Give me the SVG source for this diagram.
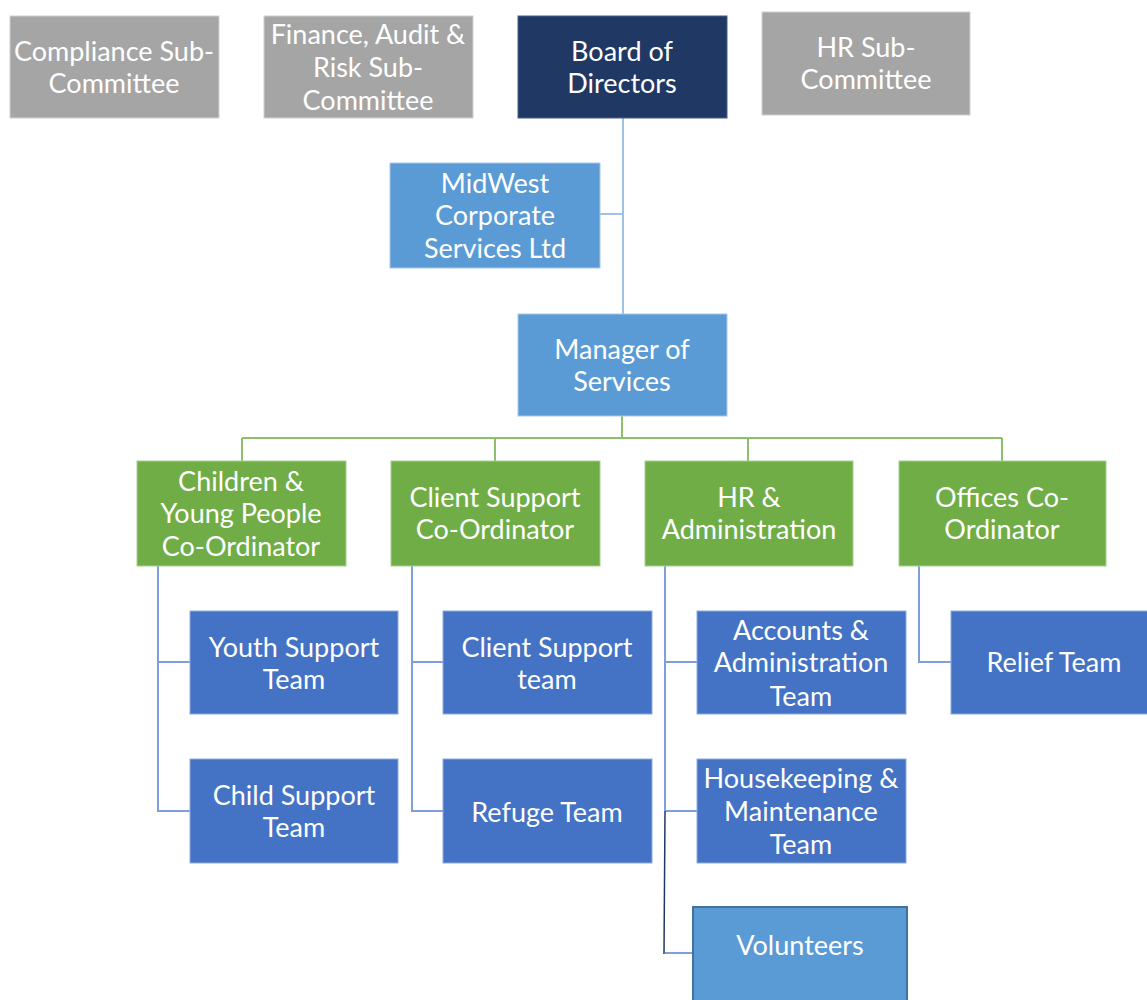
<svg xmlns="http://www.w3.org/2000/svg" width="1147" height="1000" viewBox="0 0 1147 1000">
<style>
  text { font-family: Lato, "Open Sans", "Liberation Sans", sans-serif; font-size: 27px; fill: #ffffff; text-anchor: middle; dominant-baseline: central; }
  .gray { fill: #A5A5A5; stroke: #d0d0d0; stroke-width: 1; }
  .navy { fill: #203864; stroke: #4a5f85; stroke-width: 1; }
  .lblue { fill: #5B9BD5; stroke: #a9c8e8; stroke-width: 1; }
  .green { fill: #70AD47; stroke: #a6cf8b; stroke-width: 1; }
  .blue { fill: #4472C4; stroke: #8faadc; stroke-width: 1; }
  .vol { fill: #5B9BD5; stroke: #41719C; stroke-width: 2; }
  .c1 { stroke: #9DC3E6; stroke-width: 2; fill: none; }
  .c2 { stroke: #8CC06A; stroke-width: 2; fill: none; }
  .c3 { stroke: #7F9FDC; stroke-width: 2; fill: none; }
</style>
<rect width="1147" height="1000" fill="#ffffff"/>
<g id="connectors">
  <path class="c1" d="M623 118 V314 M600 214 H623"/>
  <path class="c2" d="M622 416 V438 M242 438 H1002 M242 438 V461 M495 438 V461 M748 438 V461 M1002 438 V461"/>
  <path class="c3" d="M158 566 V811 H190 M158 662 H190"/>
  <path class="c3" d="M412 566 V811 H443 M412 662 H443"/>
  <path class="c3" d="M665 566 V811 M665 662 H697 M665 811 H697"/>
  <path d="M665 811 L664 954" stroke="#203864" stroke-width="1.5" fill="none"/>
  <path class="c3" d="M665 953 H692"/>
  <path class="c3" d="M919 566 V662 H951"/>
</g>
<g id="compliance">
  <rect class="gray" x="10" y="16" width="209" height="102"/>
  <text x="114" y="50">Compliance Sub-</text>
  <text x="114" y="82">Committee</text>
</g>
<g id="finance">
  <rect class="gray" x="264" y="16" width="209" height="102"/>
  <text x="368" y="33">Finance, Audit &amp;</text>
  <text x="368" y="66">Risk Sub-</text>
  <text x="368" y="99">Committee</text>
</g>
<g id="board">
  <rect class="navy" x="518" y="16" width="209" height="102"/>
  <text x="622" y="50">Board of</text>
  <text x="622" y="82">Directors</text>
</g>
<g id="hr-sub">
  <rect class="gray" x="762" y="12" width="208" height="103"/>
  <text x="866" y="46">HR Sub-</text>
  <text x="866" y="78">Committee</text>
</g>
<g id="midwest">
  <rect class="lblue" x="390" y="163" width="210" height="105"/>
  <text x="495" y="182">MidWest</text>
  <text x="495" y="214">Corporate</text>
  <text x="495" y="247">Services Ltd</text>
</g>
<g id="manager">
  <rect class="lblue" x="518" y="314" width="209" height="102"/>
  <text x="622" y="348">Manager of</text>
  <text x="622" y="380">Services</text>
</g>
<g id="children">
  <rect class="green" x="137" y="461" width="209" height="105"/>
  <text x="241" y="480">Children &amp;</text>
  <text x="241" y="512">Young People</text>
  <text x="241" y="545">Co-Ordinator</text>
</g>
<g id="client-coord">
  <rect class="green" x="391" y="461" width="209" height="105"/>
  <text x="495" y="496">Client Support</text>
  <text x="495" y="528">Co-Ordinator</text>
</g>
<g id="hr-admin">
  <rect class="green" x="645" y="461" width="208" height="105"/>
  <text x="749" y="496">HR &amp;</text>
  <text x="749" y="528">Administration</text>
</g>
<g id="offices">
  <rect class="green" x="899" y="461" width="207" height="105"/>
  <text x="1002" y="496">Offices Co-</text>
  <text x="1002" y="528">Ordinator</text>
</g>
<g id="youth">
  <rect class="blue" x="190" y="611" width="208" height="103"/>
  <text x="294" y="646">Youth Support</text>
  <text x="294" y="678">Team</text>
</g>
<g id="child">
  <rect class="blue" x="190" y="759" width="208" height="104"/>
  <text x="294" y="794">Child Support</text>
  <text x="294" y="826">Team</text>
</g>
<g id="client-team">
  <rect class="blue" x="443" y="611" width="209" height="103"/>
  <text x="547" y="646">Client Support</text>
  <text x="547" y="678">team</text>
</g>
<g id="refuge">
  <rect class="blue" x="443" y="759" width="209" height="104"/>
  <text x="547" y="811">Refuge Team</text>
</g>
<g id="accounts">
  <rect class="blue" x="697" y="611" width="209" height="103"/>
  <text x="801" y="629">Accounts &amp;</text>
  <text x="801" y="661">Administration</text>
  <text x="801" y="695">Team</text>
</g>
<g id="housekeeping">
  <rect class="blue" x="697" y="759" width="209" height="104"/>
  <text x="801" y="777">Housekeeping &amp;</text>
  <text x="801" y="810">Maintenance</text>
  <text x="801" y="843">Team</text>
</g>
<g id="relief">
  <rect class="blue" x="951" y="611" width="200" height="103"/>
  <text x="1054" y="661">Relief Team</text>
</g>
<g id="volunteers">
  <rect class="vol" x="693" y="907" width="214" height="100"/>
  <text x="800" y="944">Volunteers</text>
</g>
</svg>
